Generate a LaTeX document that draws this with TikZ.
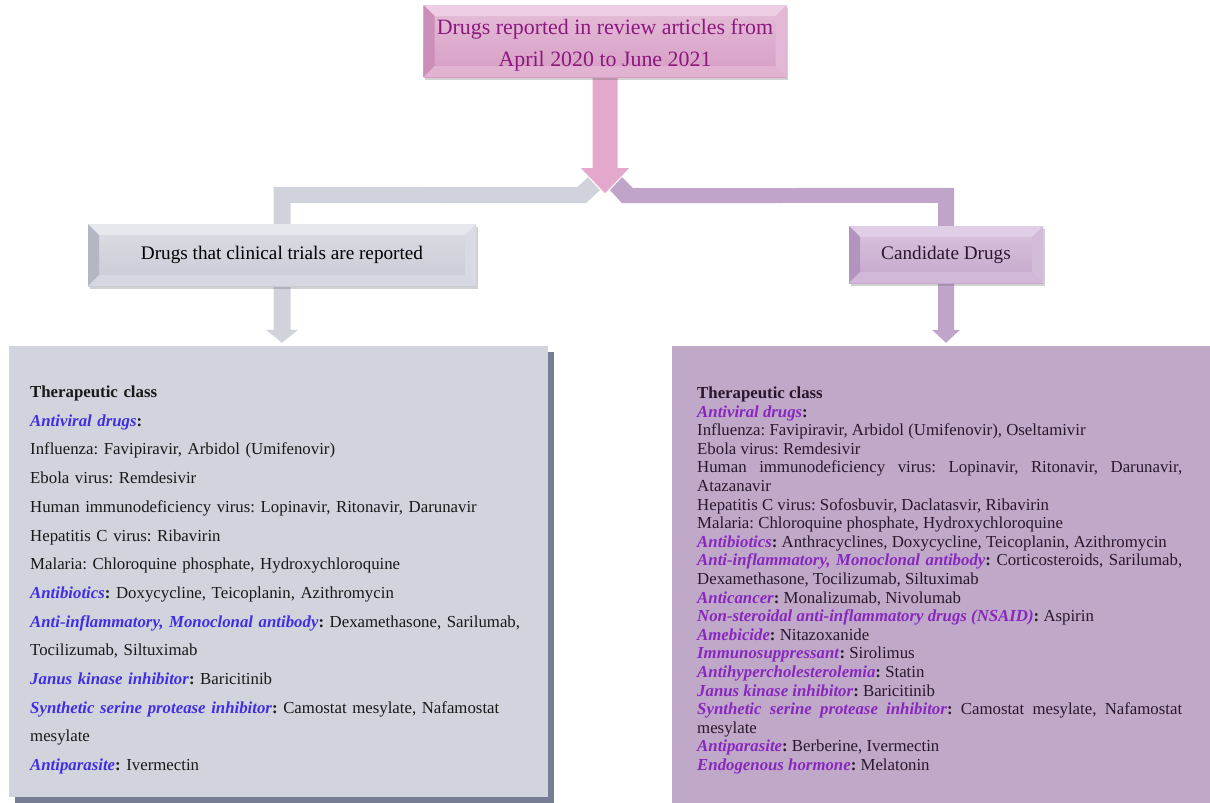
\documentclass[tikz,border=0pt]{standalone}
\usepackage{fontspec}
\setmainfont{Liberation Serif}
\usetikzlibrary{positioning, calc, shadows}
\usetikzlibrary{backgrounds}

\definecolor{topface}{RGB}{214,156,196}
\definecolor{toplight}{RGB}{238,206,228}
\definecolor{topdark}{RGB}{202,142,184}
\definecolor{toptext}{RGB}{140,24,126}
\definecolor{trialface}{RGB}{200,203,213}
\definecolor{triallight}{RGB}{230,232,238}
\definecolor{trialdark}{RGB}{180,183,195}
\definecolor{candface}{RGB}{196,166,204}
\definecolor{candlight}{RGB}{224,206,230}
\definecolor{canddark}{RGB}{178,148,190}
\definecolor{pinkarrow}{RGB}{229,168,205}
\definecolor{grayband}{RGB}{208,211,220}
\definecolor{purpleband}{RGB}{192,164,202}
\definecolor{trialbg}{RGB}{209,212,221}
\definecolor{candbg}{RGB}{192,168,201}
\definecolor{shadowgray}{RGB}{120,125,150}
\definecolor{leftblue}{RGB}{66,46,226}
\definecolor{rightpurple}{RGB}{136,38,190}
\definecolor{righttext}{RGB}{40,24,44}

\newcommand{\bev}{11}
\newcommand{\drugclass}[1]{\textcolor{clscol}{\textbf{\textit{#1}}}\textbf{:}}
\frenchspacing

\begin{document}
\begin{tikzpicture}[x=1pt, y=-1pt,
	bevelbox/.style n args={3}{top color=#1!65!white, bottom color=#1, inner sep=0pt,
		drop shadow={shadow xshift=1.5pt, shadow yshift=-2.5pt, opacity=.3, fill=black!60},
		path picture={
			\coordinate (bnw) at (path picture bounding box.north west);
			\coordinate (bne) at (path picture bounding box.north east);
			\coordinate (bsw) at (path picture bounding box.south west);
			\coordinate (bse) at (path picture bounding box.south east);
			\fill[#2] (bnw) -- (bne) -- ($(bne)+(-\bev,\bev)$) -- ($(bnw)+(\bev,\bev)$) -- cycle;
			\fill[#3] (bnw) -- ($(bnw)+(\bev,\bev)$) -- ($(bsw)+(\bev,-\bev)$) -- (bsw) -- cycle;
			\fill[#2!45!#1] (bsw) -- (bse) -- ($(bse)+(-\bev,-\bev)$) -- ($(bsw)+(\bev,-\bev)$) -- cycle;
			\fill[#2!55!#1] (bne) -- (bse) -- ($(bse)+(-\bev,-\bev)$) -- ($(bne)+(-\bev,\bev)$) -- cycle;
		}},
	listbox/.style={minimum width=#1, inner sep=0pt},
	listtext/.style={anchor=base west, inner sep=0pt}]
\useasboundingbox (0,0) rectangle (1210,803);

% headings
\node (top) at (605,41) [bevelbox={topface}{toplight}{topdark}, minimum width=363pt, minimum height=72pt, text=toptext, align=center, font=\fontsize{21.9}{32}\selectfont] {\rule{0pt}{24pt}Drugs reported in review articles from\\April 2020 to June 2021};
\node (trial) at (282,255) [bevelbox={trialface}{triallight}{trialdark}, minimum width=388pt, minimum height=62pt, font=\fontsize{19.2}{23}\selectfont] {Drugs that clinical trials are reported};
\node (cand) at (946,254.5) [bevelbox={candface}{candlight}{canddark}, minimum width=194pt, minimum height=57pt, text=righttext, font=\fontsize{19.2}{23}\selectfont] {Candidate Drugs};

% the two lists
\node (trialbox) at (278.5,571.5) [listbox=539pt, minimum height=451pt, fill=trialbg, drop shadow={shadow xshift=6pt, shadow yshift=-6pt, opacity=1, fill=shadowgray}] {};
\node (candbox) at (941,574.5) [listbox=538pt, minimum height=457pt, fill=candbg] {};

\node (trialtext) at (30,397.5) [listtext, text width=510pt, align=left, text=black!90, font=\fontsize{16.8}{28.7}\selectfont] {\colorlet{clscol}{leftblue}%
	\textbf{Therapeutic class}\\
	\drugclass{Antiviral drugs}\\
	Influenza: Favipiravir, Arbidol (Umifenovir)\\
	Ebola virus: Remdesivir\\
	Human immunodeficiency virus: Lopinavir, Ritonavir, Darunavir\\
	Hepatitis C virus: Ribavirin\\
	Malaria: Chloroquine phosphate, Hydroxychloroquine\\
	\drugclass{Antibiotics} Doxycycline, Teicoplanin, Azithromycin\\
	\drugclass{Anti-inflammatory, Monoclonal antibody} Dexamethasone, Sarilumab,\\
	Tocilizumab, Siltuximab\\
	\drugclass{Janus kinase inhibitor} Baricitinib\\
	\drugclass{Synthetic serine protease inhibitor} Camostat mesylate, Nafamostat\\
	mesylate\\
	\drugclass{Antiparasite} Ivermectin};

\node (candtext) at (697,398.5) [listtext, text width=485pt, align=justify, text=righttext, font=\fontsize{16.8}{18.6}\selectfont] {\lefthyphenmin=62 \righthyphenmin=62 \tolerance=10000 \colorlet{clscol}{rightpurple}%
	\textbf{Therapeutic class}\\
	\drugclass{Antiviral drugs}\\
	Influenza: Favipiravir, Arbidol (Umifenovir), Oseltamivir\\
	Ebola virus: Remdesivir\\
	Human immunodeficiency virus: Lopinavir, Ritonavir, Darunavir, \mbox{Atazanavir}\\
	Hepatitis C virus: Sofosbuvir, Daclatasvir, Ribavirin\\
	Malaria: Chloroquine phosphate, Hydroxychloroquine\\
	\drugclass{Antibiotics} Anthracyclines, Doxycycline, Teicoplanin, Azithromycin\\
	\drugclass{Anti-inflammatory, Monoclonal antibody} Corticosteroids, Sarilumab, \mbox{Dexamethasone}, Tocilizumab, Siltuximab\\
	\drugclass{Anticancer} Monalizumab, Nivolumab\\
	\drugclass{Non-steroidal anti-inflammatory drugs (NSAID)} Aspirin\\
	\drugclass{Amebicide} Nitazoxanide\\
	\drugclass{Immunosuppressant} Sirolimus\\
	\drugclass{Antihypercholesterolemia} Statin\\
	\drugclass{Janus kinase inhibitor} Baricitinib\\
	\drugclass{Synthetic serine protease inhibitor} Camostat mesylate, Nafamostat \mbox{mesylate}\\
	\drugclass{Antiparasite} Berberine, Ivermectin\\
	\drugclass{Endogenous hormone} Melatonin};

% block connectors
\coordinate (split) at ($(top.south)+(0,116)$);
\coordinate (tipL) at ($(trial.south |- trialbox.north)+(0,-3)$);
\coordinate (tipR) at ($(cand.south |- candbox.north)+(0,-3)$);
\begin{scope}[on background layer]
	\fill[grayband] ($(trial.north)+(-8.5,0)$) -- ($(trial.north)+(-8.5,-37)$) -- ($(split)+(-28,-6)$) -- ($(split)+(-17,-16)$) -- ($(split)+(-5,-3)$) -- ($(split)+(-19,10)$) -- ($(trial.north)+(8.5,-21)$) -- ($(trial.north)+(8.5,0)$) -- cycle;
	\fill[purpleband] ($(cand.north)+(-8,0)$) -- ($(cand.north)+(-8,-23)$) -- ($(split)+(17,10)$) -- ($(split)+(5,-3)$) -- ($(split)+(17,-16)$) -- ($(split)+(28,-5)$) -- ($(cand.north)+(8,-38)$) -- ($(cand.north)+(8,0)$) -- cycle;
	\fill[pinkarrow] ($(top.south)+(-12.5,0)$) -- ($(top.south)+(12.5,0)$) -- ($(split)+(12.5,-25)$) -- ($(split)+(24,-25)$) -- (split) -- ($(split)+(-24,-25)$) -- ($(split)+(-12.5,-25)$) -- cycle;
	\fill[grayband] ($(trial.south)+(-8.5,0)$) -- ($(trial.south)+(8.5,0)$) -- ($(tipL)+(8.5,-13)$) -- ($(tipL)+(16,-13)$) -- (tipL) -- ($(tipL)+(-16,-13)$) -- ($(tipL)+(-8.5,-13)$) -- cycle;
	\fill[purpleband] ($(cand.south)+(-8,0)$) -- ($(cand.south)+(8,0)$) -- ($(tipR)+(8,-13)$) -- ($(tipR)+(14,-13)$) -- (tipR) -- ($(tipR)+(-14,-13)$) -- ($(tipR)+(-8,-13)$) -- cycle;
\end{scope}
\end{tikzpicture}
\end{document}
